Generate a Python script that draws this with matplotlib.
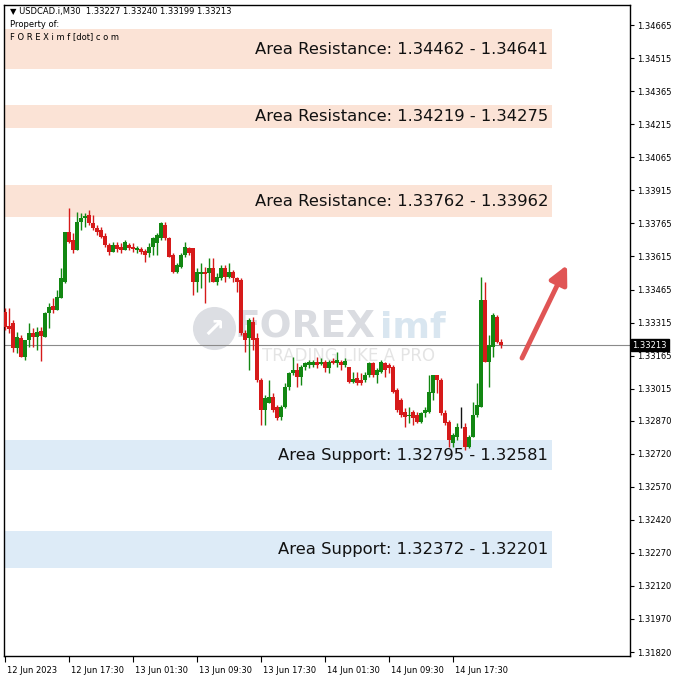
import matplotlib
matplotlib.use("Agg")
import matplotlib.pyplot as plt
import matplotlib.transforms as mtransforms
import numpy as np

# ---------------- data ----------------
symbol_header = "\u25BC USDCAD.i,M30  1.33227 1.33240 1.33199 1.33213"
current_price = 1.33213

opens = [1.33362,1.33299,1.33313,1.33200,1.33245,1.33159,1.33235,1.33267,1.33249,1.33276,
         1.33249,1.33358,1.33390,1.33372,1.33426,1.33499,1.33726,1.33690,1.33644,1.33771,
         1.33789,1.33803,1.33766,1.33744,1.33735,1.33708,1.33667,1.33635,1.33667,1.33658,
         1.33644,1.33667,1.33658,1.33644,1.33649,1.33640,1.33630,1.33658,1.33676,1.33699,
         1.33758,1.33699,1.33621,1.33544,1.33567,1.33621,1.33653,1.33653,1.33499,1.33535,
         1.33544,1.33540,1.33562,1.33499,1.33517,1.33562,1.33522,1.33544,1.33517,1.33508,
         1.33267,1.33245,1.33317,1.33245,1.33054,1.32918,1.32950,1.32977,1.32932,1.32886,
         1.32932,1.33023,1.33086,1.33100,1.33068,1.33113,1.33122,1.33122,1.33136,1.33127,
         1.33136,1.33109,1.33141,1.33131,1.33136,1.33122,1.33113,1.33045,1.33063,1.33054,
         1.33054,1.33077,1.33131,1.33077,1.33091,1.33131,1.33122,1.33113,1.33009,1.32964,
         1.32909,1.32891,1.32909,1.32896,1.32864,1.32905,1.32909,1.32995,1.33077,1.33054,
         1.32905,1.32864,1.32768,1.32796,1.32841,1.32841,1.32750,1.32796,1.32896,1.32932,
         1.33417,1.33136,1.33204,1.33340,1.33227]
highs = [1.33381,1.33381,1.33326,1.33272,1.33258,1.33235,1.33313,1.33290,1.33294,1.33294,
         1.33362,1.33403,1.33426,1.33462,1.33562,1.33726,1.33835,1.33721,1.33817,1.33812,
         1.33812,1.33826,1.33803,1.33758,1.33748,1.33721,1.33676,1.33680,1.33680,1.33676,
         1.33690,1.33676,1.33676,1.33662,1.33658,1.33649,1.33676,1.33703,1.33721,1.33771,
         1.33771,1.33703,1.33630,1.33585,1.33630,1.33680,1.33658,1.33653,1.33562,1.33585,
         1.33567,1.33608,1.33608,1.33540,1.33576,1.33576,1.33585,1.33553,1.33522,1.33517,
         1.33281,1.33335,1.33340,1.33267,1.33063,1.32986,1.33054,1.32995,1.32941,1.32941,
         1.33041,1.33091,1.33159,1.33131,1.33122,1.33136,1.33145,1.33145,1.33159,1.33154,
         1.33145,1.33145,1.33154,1.33181,1.33145,1.33154,1.33113,1.33091,1.33091,1.33086,
         1.33091,1.33136,1.33136,1.33109,1.33145,1.33136,1.33131,1.33122,1.33018,1.32973,
         1.32927,1.32932,1.32918,1.32909,1.32909,1.32932,1.33077,1.33077,1.33077,1.33063,
         1.32918,1.32873,1.32814,1.32859,1.32932,1.32859,1.32805,1.32955,1.33041,1.33522,
         1.33499,1.33258,1.33358,1.33349,1.33240]
lows = [1.33281,1.33267,1.33181,1.33177,1.33159,1.33145,1.33204,1.33204,1.33190,1.33141,
        1.33249,1.33290,1.33358,1.33372,1.33426,1.33494,1.33676,1.33630,1.33644,1.33735,
        1.33748,1.33758,1.33735,1.33712,1.33699,1.33658,1.33621,1.33635,1.33635,1.33630,
        1.33644,1.33644,1.33635,1.33630,1.33626,1.33590,1.33612,1.33621,1.33621,1.33690,
        1.33690,1.33612,1.33540,1.33540,1.33562,1.33612,1.33621,1.33440,1.33453,1.33471,
        1.33403,1.33499,1.33499,1.33485,1.33508,1.33499,1.33517,1.33499,1.33453,1.33258,
        1.33181,1.33100,1.33190,1.33045,1.32850,1.32850,1.32950,1.32909,1.32873,1.32873,
        1.32927,1.33009,1.33077,1.33023,1.33032,1.33100,1.33109,1.33113,1.33109,1.33122,
        1.33091,1.33086,1.33127,1.33113,1.33100,1.33113,1.33041,1.33041,1.33032,1.33032,
        1.33045,1.33068,1.33068,1.33041,1.33086,1.33068,1.33086,1.32995,1.32909,1.32886,
        1.32841,1.32859,1.32850,1.32859,1.32859,1.32886,1.32905,1.32964,1.32995,1.32896,
        1.32850,1.32750,1.32750,1.32782,1.32837,1.32737,1.32746,1.32796,1.32886,1.32932,
        1.33136,1.33023,1.33159,1.33222,1.33199]
closes = [1.33294,1.33285,1.33200,1.33249,1.33159,1.33235,1.33267,1.33249,1.33272,1.33254,
          1.33358,1.33385,1.33372,1.33431,1.33517,1.33726,1.33680,1.33644,1.33771,1.33789,
          1.33798,1.33766,1.33744,1.33726,1.33703,1.33667,1.33635,1.33667,1.33649,1.33644,
          1.33680,1.33653,1.33649,1.33653,1.33635,1.33621,1.33658,1.33699,1.33712,1.33766,
          1.33699,1.33612,1.33544,1.33576,1.33621,1.33658,1.33630,1.33499,1.33544,1.33544,
          1.33535,1.33562,1.33499,1.33522,1.33562,1.33522,1.33544,1.33517,1.33499,1.33267,
          1.33235,1.33326,1.33235,1.33054,1.32918,1.32973,1.32977,1.32918,1.32882,1.32932,
          1.33023,1.33086,1.33100,1.33068,1.33113,1.33131,1.33136,1.33136,1.33122,1.33136,
          1.33109,1.33136,1.33131,1.33145,1.33122,1.33141,1.33045,1.33059,1.33041,1.33041,
          1.33077,1.33131,1.33077,1.33100,1.33136,1.33100,1.33109,1.33000,1.32918,1.32896,
          1.32886,1.32896,1.32882,1.32864,1.32905,1.32918,1.33000,1.33077,1.33054,1.32905,
          1.32859,1.32782,1.32805,1.32841,1.32841,1.32750,1.32796,1.32896,1.32941,1.33417,
          1.33136,1.33213,1.33349,1.33226,1.33213]

price_ticks = [1.34665,1.34515,1.34365,1.34215,1.34065,1.33915,1.33765,1.33615,1.33465,1.33315,
               1.33165,1.33015,1.32870,1.32720,1.32570,1.32420,1.32270,1.32120,1.31970,1.31820]
time_tick_bars = [0,16,32,48,64,80,96,112]
time_labels = ["12 Jun 2023","12 Jun 17:30","13 Jun 01:30","13 Jun 09:30",
               "13 Jun 17:30","14 Jun 01:30","14 Jun 09:30","14 Jun 17:30"]

zone_labels = ["Area Resistance: 1.34462 - 1.34641",
               "Area Resistance: 1.34219 - 1.34275",
               "Area Resistance: 1.33762 - 1.33962",
               "Area Support: 1.32795 - 1.32581",
               "Area Support: 1.32372 - 1.32201"]
zone_low = [1.34465,1.34198,1.33794,1.32646,1.32201]
zone_high = [1.34647,1.34302,1.33939,1.32782,1.32369]
zone_kind = ["res","res","res","sup","sup"]

arrow_from = (129.25, 1.33154)
arrow_to = (140.5, 1.33576)

# ---------------- styling ----------------
BULL = "#128712"
BEAR = "#d61a1a"
DOJI = "#111111"
RES_COL = "#fbe3d6"
SUP_COL = "#ddebf7"

fig = plt.figure(figsize=(6.78, 6.78), dpi=100)
fig.patch.set_facecolor("white")
W, H = 678.0, 678.0
ax = fig.add_axes([4 / W, (H - 656) / H, 626 / W, 651 / H])
ax.set_facecolor("white")

ax.set_xlim(-0.25, 156.25)
ax.set_ylim(1.31802, 1.34756)

# zones
for lo, hi, kind, lab in zip(zone_low, zone_high, zone_kind, zone_labels):
    ax.axhspan(lo, hi, xmin=0.002, xmax=0.875,
               color=RES_COL if kind == "res" else SUP_COL, lw=0, zorder=0.5)
    ax.text(135.8, (lo + hi) / 2, lab, ha="right", va="center",
            fontsize=11.8, color="#111111", zorder=5, family="DejaVu Sans")

# watermark
ax.plot([0.335], [0.504], marker="o", markersize=30, color="#dcdee3",
        transform=ax.transAxes, zorder=0.8)
ax.text(0.335, 0.501, "\u2197", transform=ax.transAxes, ha="center", va="center",
        fontsize=19, color="white", fontweight="bold", zorder=0.85)
ax.text(0.368, 0.504, "FOREX", transform=ax.transAxes, ha="left", va="center",
        fontsize=27, fontweight="bold", color="#dadce1", zorder=0.8)
ax.text(0.601, 0.504, "imf", transform=ax.transAxes, ha="left", va="center",
        fontsize=26, fontweight="bold", color="#d9e6f0", zorder=0.8)
ax.text(0.412, 0.461, "TRADING LIKE A PRO", transform=ax.transAxes, ha="left",
        va="center", fontsize=12, color="#e4e4e4", zorder=0.8)

# current price line
ax.axhline(current_price, color="#8a8a8a", lw=0.8, zorder=1)

# candles
idx = np.arange(len(opens))
o = np.array(opens); h = np.array(highs); l = np.array(lows); c = np.array(closes)
cols = np.where(c > o, BULL, np.where(c < o, BEAR, DOJI))
ax.vlines(idx, l, h, colors=cols, lw=1.0, zorder=3)
bottoms = np.minimum(o, c)
heights = np.maximum(np.abs(c - o), 0.000012)
ax.bar(idx, heights, bottom=bottoms, width=0.8, color=cols, lw=0, zorder=4)

# arrow
ax.annotate("", xy=arrow_to, xytext=arrow_from,
            arrowprops=dict(arrowstyle="-|>,head_length=1.1,head_width=0.55",
                            color="#e05555", lw=3.5, shrinkA=0, shrinkB=0),
            zorder=6)

# axes
ax.yaxis.tick_right()
ax.set_yticks(price_ticks)
ax.set_yticklabels([f"{p:.5f}" for p in price_ticks])
ax.tick_params(axis="y", direction="out", length=3, width=0.8, labelsize=6.0,
               pad=2, colors="black")
ax.set_xticks(time_tick_bars)
ax.set_xticklabels(time_labels, ha="left")
ax.tick_params(axis="x", direction="out", length=4, width=0.8, labelsize=6.0,
               pad=3, colors="black")
for lab in ax.get_xticklabels():
    lab.set_transform(lab.get_transform() + mtransforms.ScaledTranslation(2 / 100, 0, fig.dpi_scale_trans))
for sp in ax.spines.values():
    sp.set_color("black")
    sp.set_linewidth(1.0)

# current price label
blend = mtransforms.blended_transform_factory(ax.transAxes, ax.transData)
ax.text(1.004, current_price, f"{current_price:.5f}", transform=blend, ha="left",
        va="center", fontsize=6.0, color="white", zorder=10,
        bbox=dict(boxstyle="square,pad=0.2", fc="black", ec="black"))

# header text
ax.text(0.009, 0.990, symbol_header, transform=ax.transAxes, ha="left", va="center",
        fontsize=6.0, color="black", zorder=10)
ax.text(0.009, 0.970, "Property of:", transform=ax.transAxes, ha="left", va="center",
        fontsize=6.0, color="black", zorder=10)
ax.text(0.009, 0.952, "F O R E X i m f [dot] c o m", transform=ax.transAxes,
        ha="left", va="center", fontsize=6.0, color="black", zorder=10)

fig.savefig("out.png", dpi=100, facecolor="white")
